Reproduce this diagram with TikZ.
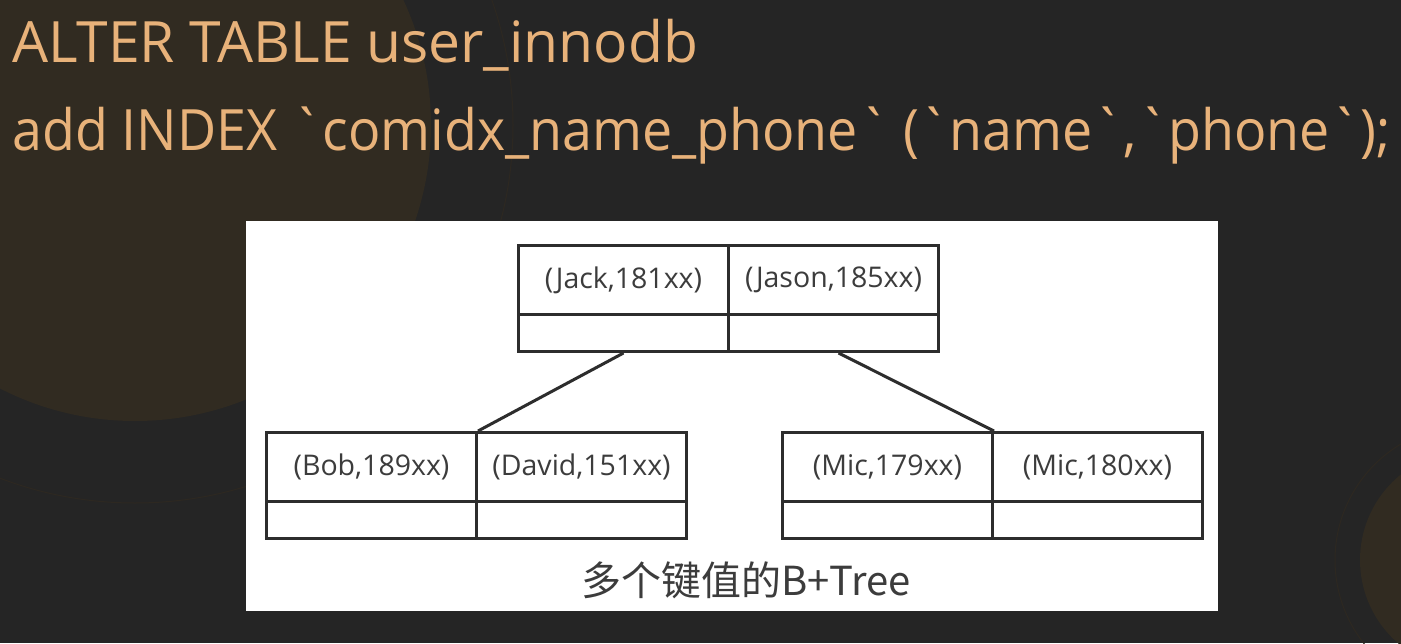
\documentclass[tikz,border=0pt]{standalone}
\usepackage{fontspec}
\setmainfont{Open Sans}[Ligatures=TeXOff]
\newfontfamily\cjk{Noto Sans CJK SC}
\definecolor{bgc}{RGB}{37,37,37}
\definecolor{circc}{RGB}{49,43,33}
\definecolor{ringc}{RGB}{45,40,33}
\definecolor{titlec}{RGB}{232,178,122}
\definecolor{linec}{RGB}{45,45,45}
\definecolor{textc}{RGB}{60,60,60}
\begin{document}
\begin{tikzpicture}[x=1pt,y=-1pt,
  cell/.style={draw=linec, line width=3pt, fill=white, inner sep=0pt,
    minimum width=210pt, text=textc, font=\fontsize{28.5}{32}\selectfont, anchor=north west},
  keycell/.style={cell, minimum height=69pt},
  ptrcell/.style={cell, minimum height=37pt},
  title/.style={text=titlec, font=\fontsize{57}{64}\selectfont, inner sep=0pt, anchor=base west},
  conn/.style={draw=linec, line width=3pt}]
\useasboundingbox (0,0) rectangle (1401,643);
\fill[bgc] (0,0) rectangle (1401,643);
\begin{scope}
  \clip (0,0) rectangle (1401,643);
  \fill[circc] (135,125) circle (296);
  \draw[ringc, line width=1pt] (135,125) circle (378);
  \fill[circc] (1470,560) circle (110);
  \draw[ringc, line width=1pt] (1470,560) circle (135);
\end{scope}
\node[title] (t1) at (12,62) {ALTER TABLE user\_innodb};
\node[title, xscale=0.943, transform shape] (t2) at (12,150) {add INDEX `comidx\_name\_phone` (`name`,`phone`);};
\fill[white] (246,221) rectangle (1218,611);
% root
\node[keycell] (jack) at (517,244) {(Jack,181xx)};
\node[keycell] (jason) at (727,244) {(Jason,185xx)};
\node[ptrcell] (jackp) at (517,313) {};
\node[ptrcell] (jasonp) at (727,313) {};
% left leaf
\node[keycell] (bob) at (265,431) {(Bob,189xx)};
\node[keycell] (david) at (475,431) {(David,151xx)};
\node[ptrcell] (bobp) at (265,500) {};
\node[ptrcell] (davidp) at (475,500) {};
% right leaf
\node[keycell] (mic1) at (781,431) {(Mic,179xx)};
\node[keycell] (mic2) at (991,431) {(Mic,180xx)};
\node[ptrcell] (mic1p) at (781,500) {};
\node[ptrcell] (mic2p) at (991,500) {};
% connectors
\draw[conn] (jackp.south) -- (bob.north east);
\draw[conn] ([xshift=5pt]jasonp.south) -- (mic1.north east);
\node[text=textc, font=\cjk\fontsize{40}{46}\selectfont] (cap) at (746,580) {多个键值的B+Tree};
\end{tikzpicture}
\end{document}
